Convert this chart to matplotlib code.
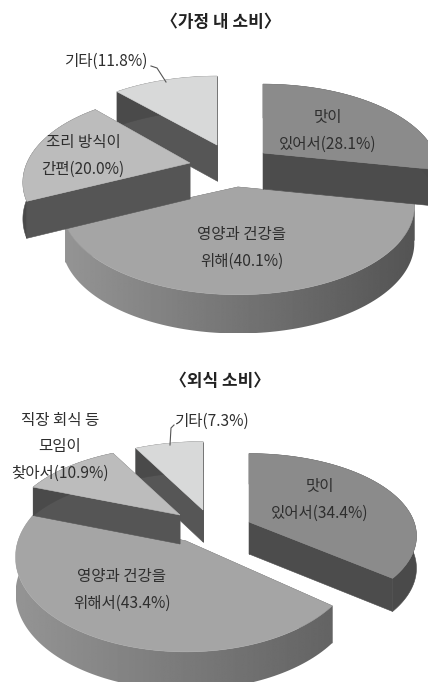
import numpy as np
import matplotlib
matplotlib.use('Agg')
import matplotlib.pyplot as plt
from matplotlib.patches import Polygon

plt.rcParams['font.family'] = ['Noto Sans CJK KR', 'DejaVu Sans']

# home consumption
home_values = [28.1, 40.1, 20.0, 11.8]
home_labels = ['맛이\n있어서(28.1%)', '영양과 건강을\n위해(40.1%)', '조리 방식이\n간편(20.0%)', '기타(11.8%)']

# eating out
out_values = [34.4, 43.4, 10.9, 7.3]
out_labels = ['맛이\n있어서(34.4%)', '영양과 건강을\n위해서(43.4%)', '직장 회식 등\n모임이\n찾아서(10.9%)', '기타(7.3%)']

top_colors = ['#8b8b8b', '#a5a5a5', '#bcbcbc', '#d8d9d9']
face_colors = ['#4c4c4c', '#5a5a5a', '#555555', '#565656']


def draw_slice(ax, start, end, apex, top, face, size, k, h, shade=None):
    # angles run clockwise from 12 o'clock
    a, b = size
    t = np.radians(np.linspace(start, end, 120))
    d = 1 + k * np.cos(t)
    px = apex[0] + a * np.sin(t) / d
    py = apex[1] - b * np.cos(t) / d
    # depth shrinks a little less than the footprint does
    py2 = py + h / d ** 0.3

    # two cut faces, then the rim
    for j in (0, -1):
        ax.add_patch(Polygon([apex, (px[j], py[j]), (px[j], py2[j]), (apex[0], apex[1] + h)],
                             fc=face, ec=face, lw=0.4, zorder=ax.order))
    rim = np.column_stack([np.r_[px, px[::-1]], np.r_[py, py2[::-1]]])
    if shade:
        patch = Polygon(rim, fc='none', ec='none', zorder=ax.order)
        ax.add_patch(patch)
        ramp = np.linspace(shade[0], shade[1], 256).reshape(1, -1)
        im = ax.imshow(ramp, cmap='gray', vmin=0, vmax=1, aspect='auto', zorder=ax.order,
                       extent=(px.min(), px.max(), py2.max(), py.min()))
        im.set_clip_path(patch)
    else:
        ax.add_patch(Polygon(rim, fc='#4a4a4a', ec='#4a4a4a', lw=0.4, zorder=ax.order))
    pts = [apex] + list(zip(px, py))
    ax.add_patch(Polygon(pts, fc=top, ec=top, lw=0.4, zorder=ax.order + 0.5))
    ax.order += 1


def draw_pie(ax, values, apexes, sizes, order, k, h, shade):
    shares = np.array(values) / sum(values) * 360
    edges = np.concatenate([[0], np.cumsum(shares)])
    for i in order:
        draw_slice(ax, edges[i], edges[i + 1], apexes[i], top_colors[i], face_colors[i],
                   sizes[i], k, h[i], shade=shade if i == 1 else None)


fig = plt.figure(figsize=(4.28, 6.82), dpi=100)
ax = fig.add_axes([0, 0, 1, 1])
ax.order = 1

draw_pie(ax, home_values, [(263, 153), (238, 187), (190, 163), (217, 145)],
         [(172, 84), (172, 84), (163, 84), (172, 84)], [1, 3, 2, 0], 0.22, [36, 36, 36, 36], (0.58, 0.33))
draw_pie(ax, out_values, [(249, 522), (186, 541), (180, 515), (203, 510)],
         [(165, 80), (168, 92), (168, 80), (168, 80)], [1, 3, 2, 0], 0.17, [32, 36, 29, 32], (0.58, 0.39))

ax.set_xlim(0, 428)
ax.set_ylim(682, 0)
ax.axis('off')

txt = dict(ha='center', va='center', fontsize=11.2, fontweight='medium', color='#2e2e2e',
           linespacing=1.72, zorder=50)
title = dict(ha='center', va='center', fontsize=12.2, fontweight='bold', color='#222222')
ax.text(221, 22, '〈가정 내 소비〉', **title)
ax.text(220, 381, '〈외식 소비〉', **title)

for lab, pos in zip(home_labels, [(328, 131), (242, 248), (83, 156), (106, 61)]):
    ax.text(pos[0], pos[1], lab, **txt)
for lab, pos in zip(out_labels, [(320, 500), (122, 590), (60, 447), (211, 421)]):
    ax.text(pos[0], pos[1], lab, **txt)

# leader lines
ax.plot([151, 157, 166], [66, 68, 82], color='#555555', lw=0.8, zorder=50)
ax.plot([174, 171, 170], [425, 428, 445], color='#555555', lw=0.8, zorder=50)

fig.savefig('out.png', dpi=100)
